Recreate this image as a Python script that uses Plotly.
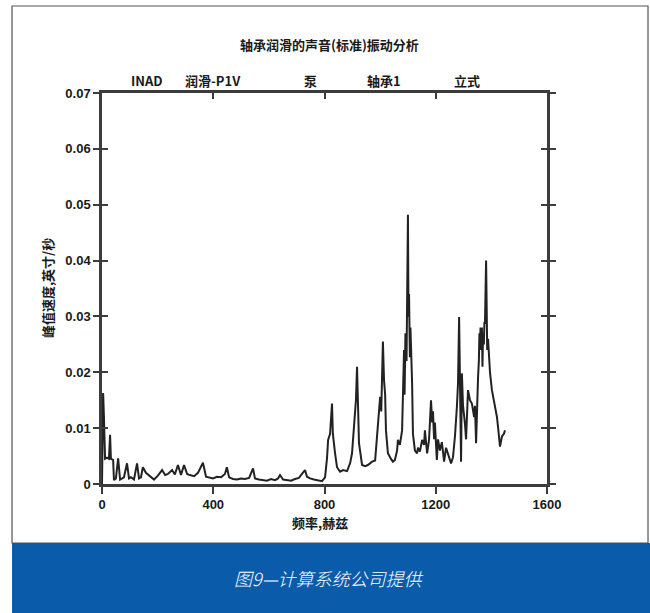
import plotly.graph_objects as go

# ---- data ----
freq_hz = [
    0, 4, 7, 11, 18, 25, 29, 32, 40, 43, 50, 58, 65, 72, 79, 90, 97, 104, 115, 126,
    133, 140, 147, 158, 173, 187, 201, 216, 227, 237, 252, 262, 273, 284, 295, 306,
    316, 331, 345, 363, 374, 385, 399, 413, 428, 442, 449, 457, 471, 485, 500, 514,
    529, 543, 550, 564, 579, 593, 608, 622, 633, 640, 651, 665, 680, 694, 708, 719,
    730, 737, 748, 762, 777, 791, 802, 809, 813, 820, 827, 830, 838, 845, 856, 867,
    881, 892, 899, 906, 913, 917, 920, 924, 935, 946, 956, 971, 982, 989, 996, 1000,
    1004, 1007, 1010, 1014, 1018, 1021, 1028, 1039, 1046, 1053, 1061, 1064, 1071,
    1079, 1082, 1086, 1088, 1089, 1091, 1093, 1095, 1097, 1100, 1102, 1104, 1106,
    1107, 1109, 1111, 1113, 1115, 1118, 1125, 1133, 1136, 1143, 1151, 1158, 1161,
    1169, 1176, 1180, 1183, 1187, 1190, 1194, 1197, 1201, 1204, 1208, 1215, 1222,
    1230, 1237, 1240, 1248, 1255, 1262, 1269, 1276, 1280, 1284, 1287, 1291, 1294,
    1298, 1305, 1309, 1316, 1323, 1330, 1338, 1341, 1345, 1352, 1355, 1357, 1359,
    1361, 1363, 1366, 1368, 1370, 1373, 1375, 1377, 1381, 1383, 1385, 1388, 1391,
    1393, 1395, 1402, 1409, 1413, 1420, 1424, 1427, 1431, 1438, 1445, 1449,
]
peak_velocity = [
    0.0000, 0.0163, 0.0120, 0.0045, 0.0047, 0.0045, 0.0088, 0.0045, 0.0043, 0.0007,
    0.0010, 0.0046, 0.0008, 0.0010, 0.0012, 0.0037, 0.0010, 0.0012, 0.0008, 0.0037,
    0.0010, 0.0012, 0.0030, 0.0020, 0.0013, 0.0008, 0.0015, 0.0025, 0.0016, 0.0018,
    0.0025, 0.0017, 0.0034, 0.0016, 0.0034, 0.0018, 0.0016, 0.0014, 0.0020, 0.0038,
    0.0013, 0.0012, 0.0010, 0.0013, 0.0012, 0.0018, 0.0030, 0.0012, 0.0009, 0.0008,
    0.0010, 0.0009, 0.0011, 0.0028, 0.0010, 0.0008, 0.0007, 0.0006, 0.0009, 0.0007,
    0.0010, 0.0016, 0.0008, 0.0007, 0.0006, 0.0009, 0.0011, 0.0018, 0.0025, 0.0013,
    0.0010, 0.0008, 0.0007, 0.0005, 0.0012, 0.0046, 0.0079, 0.0090, 0.0144, 0.0090,
    0.0055, 0.0030, 0.0022, 0.0025, 0.0023, 0.0037, 0.0055, 0.0108, 0.0150, 0.0210,
    0.0160, 0.0073, 0.0034, 0.0032, 0.0034, 0.0040, 0.0042, 0.0090, 0.0120, 0.0156,
    0.0130, 0.0200, 0.0255, 0.0186, 0.0160, 0.0096, 0.0055, 0.0045, 0.0040, 0.0043,
    0.0060, 0.0079, 0.0070, 0.0096, 0.0150, 0.0240, 0.0160, 0.0190, 0.0270, 0.0260,
    0.0220, 0.0300, 0.0482, 0.0300, 0.0340, 0.0260, 0.0227, 0.0280, 0.0250, 0.0200,
    0.0180, 0.0090, 0.0060, 0.0055, 0.0065, 0.0058, 0.0079, 0.0070, 0.0096, 0.0055,
    0.0080, 0.0120, 0.0150, 0.0110, 0.0130, 0.0080, 0.0110, 0.0070, 0.0043, 0.0080,
    0.0060, 0.0075, 0.0040, 0.0065, 0.0060, 0.0050, 0.0037, 0.0048, 0.0085, 0.0138,
    0.0180, 0.0299, 0.0150, 0.0040, 0.0198, 0.0140, 0.0108, 0.0080, 0.0168, 0.0150,
    0.0144, 0.0120, 0.0140, 0.0073, 0.0190, 0.0220, 0.0270, 0.0250, 0.0280, 0.0240,
    0.0280, 0.0210, 0.0270, 0.0250, 0.0290, 0.0287, 0.0400, 0.0280, 0.0240, 0.0260,
    0.0227, 0.0210, 0.0200, 0.0168, 0.0150, 0.0138, 0.0120, 0.0102, 0.0080, 0.0067,
    0.0085, 0.0090, 0.0096,
]

x_ticks = [0, 400, 800, 1200, 1600]
y_ticks = [0, 0.01, 0.02, 0.03, 0.04, 0.05, 0.06, 0.07]
y_tick_text = ["0", "0.01", "0.02", "0.03", "0.04", "0.05", "0.06", "0.07"]

band_labels = ["INAD", "润滑-P1V", "泵", "轴承1", "立式"]
band_label_freq = [162, 399, 748, 1014, 1312]

title_text = "轴承润滑的声音(标准)振动分析"
x_title = "频率,赫兹"
y_title = "峰值速度,英寸/秒"
caption = "图9—计算系统公司提供"

FONT = "Liberation Sans, Arial, Noto Sans CJK SC, sans-serif"
CJK = "Noto Sans CJK SC, Liberation Sans, sans-serif"
AXC = "#3c3c3c"

fig = go.Figure()
fig.add_trace(go.Scatter(
    x=freq_hz, y=peak_velocity, mode="lines",
    line=dict(color="#222222", width=2), hoverinfo="skip", showlegend=False,
))
# helper trace for the overlaid tick axes
fig.add_trace(go.Scatter(x=[None], y=[None], xaxis="x2", yaxis="y2",
                         mode="lines", showlegend=False, hoverinfo="skip"))

fig.update_layout(
    width=650, height=613,
    margin=dict(l=102, r=103, t=93, b=129),
    paper_bgcolor="white", plot_bgcolor="white",
    showlegend=False,
    xaxis=dict(range=[0, 1600], tickvals=x_ticks, ticks="outside", ticklen=7,
               tickwidth=2, tickcolor=AXC, showline=True, linecolor=AXC,
               linewidth=2.5, showgrid=False, zeroline=False,
               tickfont=dict(family=FONT, size=13, color="#1a1a1a", weight="bold")),
    xaxis2=dict(range=[0, 1600], overlaying="x", side="top", anchor="y2",
                tickvals=[0, 400, 800, 1200], ticks="inside", ticklen=6,
                tickwidth=2, tickcolor=AXC, showline=True, linecolor=AXC,
                linewidth=2.5, showgrid=False, zeroline=False,
                showticklabels=False),
    yaxis=dict(range=[0, 0.07], tickvals=y_ticks, ticktext=y_tick_text,
               ticks="outside", ticklen=6, tickwidth=2, tickcolor=AXC,
               mirror="ticks", showline=True, linecolor=AXC, linewidth=2.5,
               showgrid=False, zeroline=False,
               tickfont=dict(family=FONT, size=13, color="#1a1a1a", weight="bold")),
    yaxis2=dict(range=[0, 0.07], overlaying="y", side="left", anchor="x2",
                tickvals=y_ticks, ticks="inside", ticklen=6, tickwidth=2,
                tickcolor=AXC, mirror="ticks", showline=True, linecolor=AXC,
                linewidth=2.5, showgrid=False, zeroline=False,
                showticklabels=False),
)

def label(text, xref, x, y, size=13, color="#1a1a1a", angle=0, weight="normal"):
    return dict(text=text, xref=xref, yref="paper", x=x, y=y, showarrow=False,
                xanchor="center", yanchor="middle", textangle=angle,
                font=dict(family=CJK, size=size, color=color, weight=weight))

ann = [label("<b>" + title_text + "</b>", "paper", 0.512, 1.123)]
for lab, f in zip(band_labels, band_label_freq):
    ann.append(label("<b>" + lab + "</b>", "x", f, 1.031))
ann.append(label("<b>" + x_title + "</b>", "paper", 0.49, -0.0997))
ann.append(label("<b>" + y_title + "</b>", "paper", -0.1236, 0.501, angle=-90))
ann.append(label("<i>" + caption + "</i>", "paper", 0.51, -0.2404,
                 size=18, color="white", weight=300))
fig.update_layout(annotations=ann)

# outer frame and blue caption band
fig.add_shape(type="rect", xref="paper", yref="paper",
              x0=-0.2022, x1=1.2270, y0=-0.1509, y1=1.2225,
              line=dict(color="#555555", width=1.2), fillcolor="rgba(0,0,0,0)",
              layer="below")
fig.add_shape(type="rect", xref="paper", yref="paper",
              x0=-0.2022, x1=1.25, y0=-0.34, y1=-0.1509,
              line=dict(width=0), fillcolor="#0a5cab", layer="below")

fig.write_html("out.html",
               config={"displayModeBar": False},
               post_script="document.body.style.margin='0';"
                           "document.body.style.overflow='hidden';")
